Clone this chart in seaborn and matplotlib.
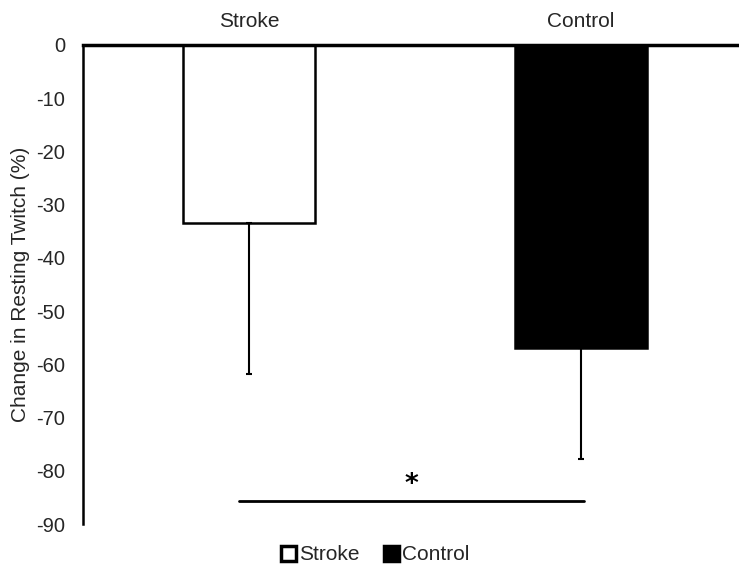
import matplotlib
matplotlib.use("Agg")
import matplotlib.pyplot as plt
import seaborn as sns
import pandas as pd
from matplotlib.patches import Patch

categories = ["Stroke", "Control"]
means = [-33.5, -57.0]
err_lower = [28.3, 20.8]
bar_colors = ["white", "black"]
yticks = [0, -10, -20, -30, -40, -50, -60, -70, -80, -90]
ylabel = "Change in Resting Twitch (%)"
sig_span = [-0.03, 1.01]
sig_y = -85.7
sig_text = "*"

sns.set_style("white")
plt.rcParams['font.family'] = ['Liberation Sans', 'DejaVu Sans']
FS = 15

df = pd.DataFrame({"group": categories, "value": means})

fig = plt.figure(figsize=(7.39, 5.65), dpi=100)
ax = fig.add_axes([83/739, 1 - 524/565, (747 - 83)/739, (524 - 45)/565])

sns.barplot(data=df, x="group", y="value", hue="group", palette=bar_colors,
            order=categories, hue_order=categories, width=0.40,
            edgecolor="black", linewidth=1.8, dodge=False, legend=False, ax=ax)

for i, (m, e) in enumerate(zip(means, err_lower)):
    ax.errorbar(i, m, yerr=[[e], [0]], fmt="none", ecolor="black",
                elinewidth=1.5, capsize=2, capthick=1.5)

ax.set_ylim(-90, 0)
ax.set_xlim(-0.5, 1.5)
ax.set_yticks(yticks)
ax.set_yticklabels([str(t) for t in yticks], fontsize=14.5)
ax.xaxis.tick_top()
ax.set_xlabel("")
ax.tick_params(axis="x", length=0, labelsize=FS, pad=10)
ax.tick_params(axis="y", length=0, pad=13)
ax.set_ylabel(ylabel, fontsize=FS, labelpad=4)

for s in ["bottom", "right"]:
    ax.spines[s].set_visible(False)
ax.spines["top"].set_linewidth(2.5)
ax.spines["top"].set_color("black")
ax.spines["left"].set_linewidth(1.8)
ax.spines["left"].set_color("black")

ax.plot(sig_span, [sig_y, sig_y], color="black", lw=2, clip_on=False)
ax.text(0.49, sig_y + 0.6, sig_text, ha="center", va="bottom", fontsize=19,
        fontweight="bold", color="black", family="DejaVu Sans")

handles = [Patch(facecolor=c, edgecolor="black", linewidth=2.5) for c in bar_colors]
fig.legend(handles, categories, loc="center", bbox_to_anchor=(0.508, 1 - 555/565), ncol=2,
           frameon=False, fontsize=FS, handlelength=0.7, handleheight=0.7,
           handletextpad=0.15, columnspacing=1.2, borderpad=0)

fig.savefig("out.png", dpi=100)
